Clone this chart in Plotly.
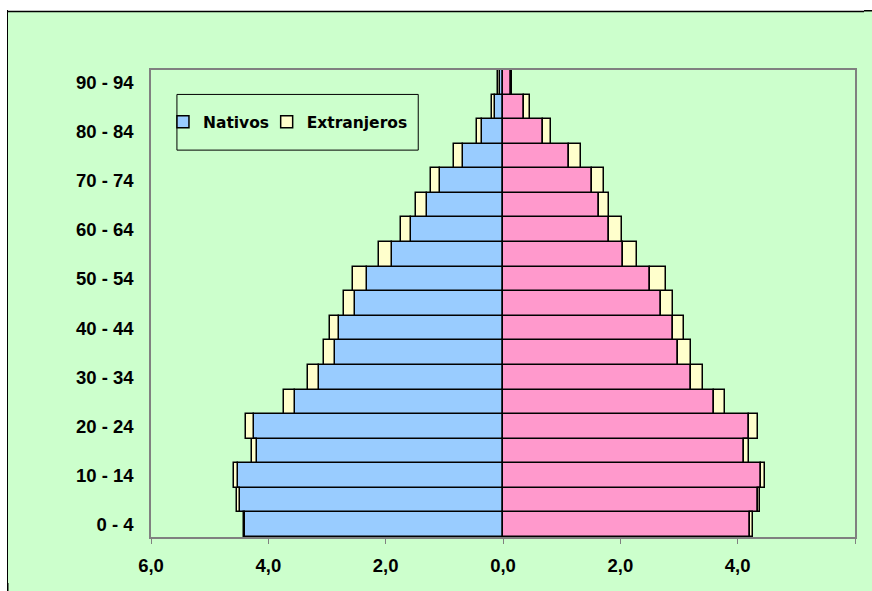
import plotly.graph_objects as go

ages = ["0 - 4", "5 - 9", "10 - 14", "15 - 19", "20 - 24", "25 - 29", "30 - 34",
        "35 - 39", "40 - 44", "45 - 49", "50 - 54", "55 - 59", "60 - 64",
        "65 - 69", "70 - 74", "75 - 79", "80 - 84", "85 - 89", "90 - 94"]
nativos_h = [4.39, 4.49, 4.52, 4.19, 4.25, 3.55, 3.13, 2.86, 2.80, 2.53, 2.32,
             1.89, 1.56, 1.30, 1.08, 0.685, 0.35, 0.136, 0.055]
extranj_h = [0.03, 0.045, 0.07, 0.09, 0.124, 0.187, 0.187, 0.187, 0.153, 0.18,
             0.24, 0.216, 0.18, 0.18, 0.153, 0.153, 0.10, 0.045, 0.025]
nativos_m = [4.215, 4.34, 4.40, 4.10, 4.19, 3.59, 3.20, 2.99, 2.89, 2.686, 2.50,
             2.05, 1.80, 1.63, 1.51, 1.12, 0.69, 0.357, 0.14]
extranj_m = [0.045, 0.045, 0.073, 0.097, 0.165, 0.187, 0.21, 0.21, 0.187, 0.204,
             0.277, 0.23, 0.22, 0.175, 0.215, 0.204, 0.125, 0.097, 0.02]
x_ticks = [-6, -4, -2, 0, 2, 4, 6]
x_ticktext = ["6,0", "4,0", "2,0", "0,0", "2,0", "4,0", "6,0"]
y_ticks = ages[::2]

BLUE = "#99CCFF"
PINK = "#FF99CC"
YELLOW = "#FFFFCC"
GREEN = "#CCFFCC"
line = dict(color="black", width=1.5)

fig = go.Figure()
fig.add_trace(go.Bar(y=ages, x=[-v for v in nativos_h], orientation="h", name="Nativos",
                     marker=dict(color=BLUE, line=line), legend="legend"))
fig.add_trace(go.Bar(y=ages, x=[-v for v in extranj_h], orientation="h", name="Extranjeros",
                     marker=dict(color=YELLOW, line=line), legend="legend2"))
fig.add_trace(go.Bar(y=ages, x=nativos_m, orientation="h", name="Nativas",
                     marker=dict(color=PINK, line=line), showlegend=False))
fig.add_trace(go.Bar(y=ages, x=extranj_m, orientation="h", name="Extranjeras",
                     marker=dict(color=YELLOW, line=line), showlegend=False))

# The page body keeps its default 8px margin, so the figure is 16px smaller
# and every reference position is shifted by 8px.
OFF = 8
W, H = 872 - 2 * OFF, 591 - 2 * OFF
L, T = 151 - OFF, 70 - OFF
R, B = W - (857 - OFF), H - (548 - OFF)
pw, ph = 706, 478

def px(x):
    return (x - 151) / pw

def py(y):
    return (548 - y) / ph

leg_font = dict(family="DejaVu Sans", size=15.5, color="black", weight="bold")
leg_common = dict(orientation="h", xanchor="left", y=py(123.5), yanchor="middle",
                  bgcolor="rgba(0,0,0,0)", borderwidth=0, font=leg_font, itemwidth=30)

fig.update_layout(
    width=W, height=H,
    margin=dict(l=L, r=R, t=T, b=B),
    barmode="relative", bargap=0,
    paper_bgcolor="white", plot_bgcolor=GREEN,
    font=dict(family="Liberation Sans, Arial, sans-serif", color="black"),
    showlegend=True,
    legend=dict(x=px(163), **leg_common),
    legend2=dict(x=px(267), **leg_common),
    shapes=[
        dict(type="rect", xref="paper", yref="paper", layer="below",
             x0=px(6), x1=px(900), y0=py(620), y1=py(10),
             fillcolor=GREEN, line=dict(color="black", width=1.5)),
        dict(type="rect", xref="paper", yref="paper", layer="above",
             x0=px(177), x1=px(419), y0=py(152), y1=py(95),
             fillcolor="rgba(0,0,0,0)", line=dict(color="black", width=1)),
    ],
    xaxis=dict(range=[-6, 6], tickvals=x_ticks, ticktext=x_ticktext,
               showgrid=False, zeroline=False, showline=True, mirror=True,
               linecolor="#808080", linewidth=1.5, ticks="outside", ticklen=5,
               tickcolor="#808080", ticklabelstandoff=6,
               tickfont=dict(size=18.5, weight="bold", color="black")),
    yaxis=dict(type="category", categoryorder="array", categoryarray=ages,
               range=[-0.5, len(ages) - 0.5], tickvals=y_ticks,
               showgrid=False, zeroline=False, showline=True, mirror=True,
               linecolor="#808080", linewidth=1.5, ticks="",
               ticklabelstandoff=12,
               tickfont=dict(size=18.5, weight="bold", color="black")),
)

# Page background: white strips above y=10 and left of x=7, a black border
# line at x=7, and the chart-area green everywhere else (body margins included).
page_bg = (
    "linear-gradient(#000,#000) 7px 10px / 1.5px 100% no-repeat,"
    "linear-gradient(#000,#000) 7px 10px / 100% 1.5px no-repeat,"
    "linear-gradient(#fff,#fff) 0 0 / 100% 10px no-repeat,"
    "linear-gradient(#fff,#fff) 0 0 / 7px 100% no-repeat,"
    + GREEN
)
post = (
    "document.documentElement.style.background='%s';"
    "var gd=document.getElementById('{plot_id}');"
    "if(gd&&gd.parentElement){gd.parentElement.style.lineHeight='0';}"
    "gd.querySelectorAll('.svg-container').forEach(function(e){e.style.display='block';});"
) % page_bg

fig.write_html("out.html", config={"displayModeBar": False}, post_script=post)
